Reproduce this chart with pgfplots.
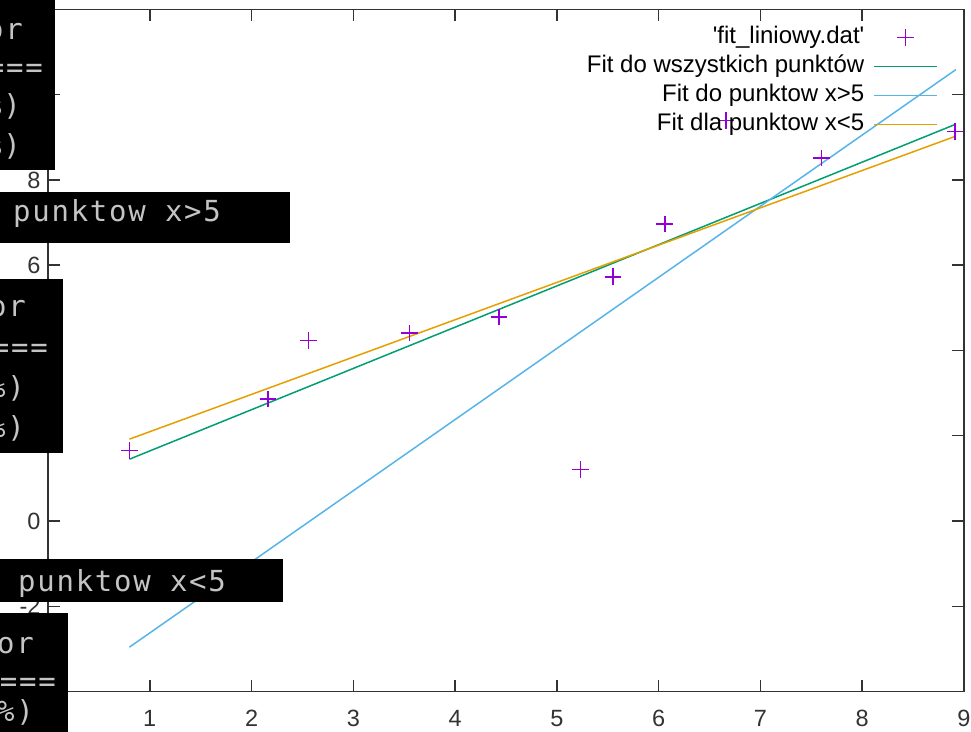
\documentclass[border=0pt]{standalone}
\usepackage{pgfplots}
\pgfplotsset{compat=1.18}
\usepackage{fontspec}
\setmainfont{Liberation Sans}
\newfontfamily\term{DejaVu Sans Mono}[LetterSpace=6]
\definecolor{gpviolet}{HTML}{9400D3}
\definecolor{gpgreen}{HTML}{009E73}
\definecolor{gpblue}{HTML}{56B4E9}
\definecolor{gporange}{HTML}{E69F00}
\definecolor{termgray}{HTML}{C4C4C4}
\tikzset{term/.style={inner sep=0pt, text=termgray, font={\term\fontsize{29}{32}\selectfont}}}
\pgfplotsset{
  lineleg/.style={legend image code/.code={\draw[##1] (0pt,0pt) -- (63pt,0pt);}},
  markleg/.style={legend image code/.code={\draw[mark repeat=2,mark phase=2,##1]
    plot coordinates {(0pt,0pt) (31.5pt,0pt) (63pt,0pt)};}},
}

\begin{document}
\begin{tikzpicture}[x=1pt,y=1pt]
\begin{axis}[
  at={(48pt,39.5pt)}, anchor=south west,
  scale only axis, width=916pt, height=682pt,
  xmin=0, xmax=9, ymin=-4, ymax=12,
  xtick={0,1,...,9}, ytick={-4,-2,...,12},
  tick align=inside, major tick length=12pt,
  axis line style={black!80, line width=1.5pt},
  tick style={black!80, line width=1.5pt},
  tick label style={font=\fontsize{23.5}{27}\selectfont, text=black!80},
  xticklabel style={yshift=-15pt},
  yticklabel style={xshift=-4pt},
  /pgf/number format/assume math mode=true,
  legend cell align=right, legend plot pos=right,
  legend style={draw=none, fill=none, font=\fontsize{24}{28}\selectfont,
    at={(axis description cs:0.9716,0.9743)}, anchor=north east,
    inner sep=0pt, row sep=8pt, column sep=9pt,
    nodes={inner sep=0pt, text height=16pt, text depth=5pt}},
]
% punkty pomiarowe
\addplot[only marks, mark=+, mark size=8.3pt, gpviolet, line width=1.5pt, markleg]
  coordinates {(0.80,1.65) (2.16,2.86) (2.56,4.23) (3.55,4.41) (4.43,4.79)
    (5.23,1.21) (5.55,5.73) (6.06,6.97) (6.66,9.40) (7.60,8.52) (8.91,9.14)};
\addlegendentry{\textquotesingle fit\_liniowy.dat\textquotesingle}
% dopasowania
\addplot[gpgreen, line width=1.5pt, lineleg]
  coordinates {(0.80,1.45) (8.91,9.30)};
\addlegendentry{Fit do wszystkich punktów}
\addplot[gpblue, line width=1.5pt, lineleg]
  coordinates {(0.80,-2.96) (8.92,10.59)};
\addlegendentry{Fit do punktow x>5}
\addplot[gporange, line width=1.5pt, lineleg]
  coordinates {(0.80,1.92) (8.91,9.02)};
\addlegendentry{Fit dla punktow x<5}
\end{axis}
\pgfresetboundingbox
\path[use as bounding box] (0,0) rectangle (971,731);
% nakladki terminala
\fill[black] (-40,561) rectangle (55,745);
\node[term, anchor=base east] at (23,691) {Error};
\node[term, anchor=base east] at (43,653) {==========================};
\node[term, anchor=base east] at (21,615) {(10.5\%)};
\node[term, anchor=base east] at (21,575) {(45.3\%)};
\fill[black] (-40,488) rectangle (290,539);
\node[term, anchor=base west] at (13,509) {punktow x>5};
\node[term, anchor=base east] at (-10,509) {Fit do};
\fill[black] (-40,278) rectangle (63,452);
\node[term, anchor=base east] at (26,414) {Error};
\node[term, anchor=base east] at (48,373) {==========================};
\node[term, anchor=base east] at (25,333) {(12.1\%)};
\node[term, anchor=base east] at (25,293) {(38.7\%)};
\fill[black] (-40,129) rectangle (283,172);
\node[term, anchor=base west] at (18,140) {punktow x<5};
\node[term, anchor=base east] at (-5,140) {Fit dla};
\fill[black] (-40,-15) rectangle (68,118);
\node[term, anchor=base east] at (34,78) {Error};
\node[term, anchor=base east] at (56,40) {==========================};
\node[term, anchor=base east] at (34,10) {(16.4\%)};
\end{tikzpicture}
\end{document}
